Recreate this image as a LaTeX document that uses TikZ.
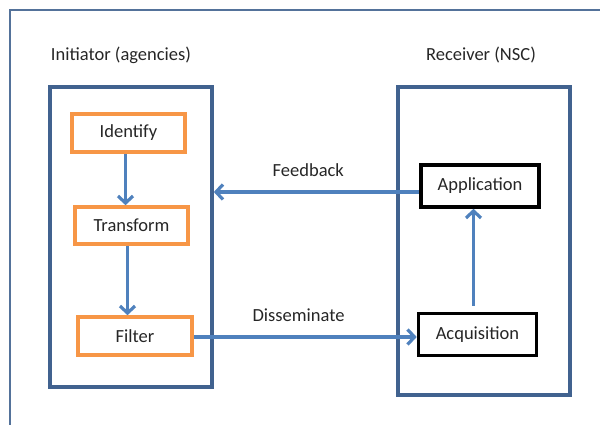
\documentclass[tikz,border=0pt]{standalone}
\usepackage{fontspec}
\setmainfont{Carlito}
\usetikzlibrary{arrows.meta,positioning}
\definecolor{frame}{HTML}{41628F}
\definecolor{flow}{HTML}{4F81BD}
\definecolor{stepline}{HTML}{F79646}
\definecolor{ink}{HTML}{262626}
\tikzset{
  >={Straight Barb[length=7pt,width=15pt]},
  every node/.style={font=\fontsize{18.5}{22}\selectfont,text=ink},
  lane/.style={draw=frame,line width=3.6pt,inner sep=0pt},
  stepbox/.style={draw=stepline,line width=3.6pt,fill=white,minimum width=113pt,minimum height=38pt,inner sep=2pt},
  endbox/.style={draw=black,line width=3.6pt,fill=white,minimum width=118pt,minimum height=42pt,inner sep=2pt},
  arrow/.style={->,line width=3.2pt,draw=flow},
  caption/.style={inner sep=1pt},
}

\begin{document}
\begin{tikzpicture}[x=1pt,y=-1pt]
\useasboundingbox (0,0) rectangle (600,425);
\clip (0,0) rectangle (600,425);

% outer frame, runs off the page
\draw[draw=frame!90,line width=2.6pt] (10,10) rectangle (640,460);

% lanes
\node[lane,minimum width=162pt,minimum height=300pt] (init) at (131,237) {};
\node[lane,minimum width=172pt,minimum height=308pt] (recv) at (484,241) {};
\node (inittitle) at (121,55) {Initiator (agencies)};
\node (recvtitle) at (481,55) {Receiver (NSC)};

% initiator steps
\node[stepbox] (identify) at (128.5,133) {Identify};
\node[stepbox,minimum height=37pt] (transform) at (131.5,225.5) {Transform};
\node[stepbox,minimum width=114pt] (filter) at (135,336) {Filter};

% receiver steps
\node[endbox] (application) at (480,186) {Application};
\node[endbox] (acquisition) at (477.5,334.5) {Acquisition};

\draw[arrow] ([xshift=-3pt]identify.south) -- ([xshift=-3pt]identify.south |- transform.north);
\draw[arrow] ([xshift=-4pt]transform.south) -- ([xshift=-4pt]transform.south |- filter.north);
\draw[arrow] ([xshift=-4pt,yshift=6pt]acquisition.north) -- ([xshift=-4pt]acquisition.north |- application.south);
\draw[arrow] ([yshift=-6pt]application.west) -- ([yshift=-6pt]application.west -| init.east)
  node[caption,pos=0.54,above=13pt] (fb) {Feedback};
\draw[arrow] ([yshift=-1pt]filter.east) -- ([yshift=-1pt]filter.east -| acquisition.west)
  node[caption,pos=0.47,above=13pt] (dis) {Disseminate};

\end{tikzpicture}
\end{document}
